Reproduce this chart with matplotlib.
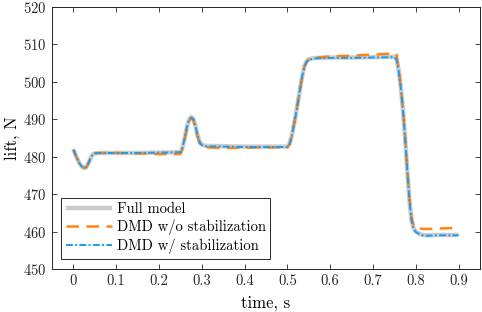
import matplotlib
matplotlib.use("Agg")
import matplotlib.pyplot as plt

plt.rcParams['font.family'] = 'serif'
plt.rcParams['font.serif'] = ['cmr10']
plt.rcParams['axes.formatter.use_mathtext'] = True
plt.rcParams['mathtext.fontset'] = 'cm'

t = [0, 0.005, 0.01, 0.015, 0.02, 0.025, 0.03, 0.035, 0.04, 0.045, 0.05, 0.06,
     0.1, 0.15, 0.2, 0.25, 0.255, 0.26, 0.265, 0.27, 0.275, 0.28, 0.285, 0.29,
     0.295, 0.3, 0.31, 0.35, 0.4, 0.45, 0.5, 0.505, 0.51, 0.515, 0.52, 0.525,
     0.53, 0.535, 0.54, 0.545, 0.55, 0.56, 0.57, 0.6, 0.65, 0.7, 0.75, 0.755,
     0.76, 0.765, 0.77, 0.775, 0.78, 0.785, 0.79, 0.795, 0.8, 0.81, 0.82, 0.83,
     0.85, 0.9]

full_model = [481.9, 480.5, 479.2, 478.1, 477.3, 477.0, 477.2, 478.2, 479.6, 480.6, 480.9, 481.0,
              481.0, 481.0, 481.1, 481.2, 482.5, 485.0, 487.8, 489.8, 490.6, 490.2, 488.3, 485.8,
              484.0, 483.2, 482.9, 482.8, 482.7, 482.7, 482.7, 483.5, 485.5, 488.5, 491.5, 495.0,
              498.5, 501.8, 504.3, 505.5, 506.0, 506.3, 506.4, 506.5, 506.5, 506.6, 506.7, 506.0,
              503.0, 498.5, 492.5, 485.0, 476.5, 468.5, 463.0, 460.8, 460.0, 459.3, 459.0, 459.0,
              459.1, 459.1]

dmd_wo = [481.9, 480.5, 479.2, 478.1, 477.3, 477.0, 477.2, 478.2, 479.6, 480.6, 480.9, 481.0,
          481.0, 480.9, 480.7, 480.7, 482.0, 484.6, 487.5, 489.5, 490.3, 489.9, 488.0, 485.4,
          483.6, 482.9, 482.5, 482.3, 482.4, 482.5, 482.5, 483.3, 485.3, 488.3, 491.3, 494.8,
          498.3, 501.6, 504.1, 505.4, 506.0, 506.3, 506.5, 506.8, 507.0, 507.3, 507.6, 507.5,
          503.5, 498.8, 492.7, 485.2, 476.8, 469.0, 463.8, 461.6, 461.0, 460.8, 460.7, 460.7,
          460.8, 461.0]

dmd_w = [481.9, 480.5, 479.2, 478.1, 477.3, 477.0, 477.2, 478.2, 479.6, 480.6, 480.9, 481.0,
         481.0, 481.0, 481.1, 481.2, 482.5, 485.0, 487.8, 489.8, 490.5, 490.1, 488.2, 485.7,
         483.9, 483.1, 482.8, 482.7, 482.6, 482.6, 482.6, 483.4, 485.4, 488.4, 491.4, 494.9,
         498.4, 501.7, 504.2, 505.4, 505.9, 506.2, 506.3, 506.4, 506.4, 506.5, 506.6, 505.9,
         502.9, 498.4, 492.4, 484.9, 476.4, 468.4, 462.9, 460.7, 459.9, 459.2, 458.9, 458.9,
         459.0, 459.0]

xticks = [0, 0.1, 0.2, 0.3, 0.4, 0.5, 0.6, 0.7, 0.8, 0.9]
xticklabels = ['0', '0.1', '0.2', '0.3', '0.4', '0.5', '0.6', '0.7', '0.8', '0.9']
yticks = [450, 460, 470, 480, 490, 500, 510, 520]

fig = plt.figure(figsize=(4.82, 3.12), dpi=100)
ax = fig.add_axes([52/482, 1-269/312, (480-52)/482, (269-7)/312])

ax.plot(t, full_model, color='#cccccc', lw=3.2, label='Full model', solid_capstyle='butt')
ax.plot(t, dmd_wo, color='#ff8412', lw=1.8, dashes=(5, 3), label='DMD w/o stabilization')
ax.plot(t, dmd_w, color='#1a9cf0', lw=1.4, dashes=(3.5, 1.2, 1, 1.2), label='DMD w/ stabilization')

ax.set_xlim(-0.05, 0.95)
ax.set_ylim(450, 520)
ax.set_xticks(xticks)
ax.set_xticklabels(xticklabels)
ax.set_yticks(yticks)
ax.tick_params(direction='in', top=True, right=True, length=3.5, width=0.6,
               labelsize=10.5, colors='#262626', pad=4)
for s in ax.spines.values():
    s.set_linewidth(0.7)
    s.set_color('#262626')
ax.set_xlabel('time, s', fontsize=12, labelpad=5)
ax.set_ylabel('lift, N', fontsize=12, labelpad=2)

leg = ax.legend(loc='lower left', bbox_to_anchor=(0.022, 0.04), fontsize=10.5,
                fancybox=False, edgecolor='#262626', framealpha=1,
                handlelength=3.2, handletextpad=0.3, borderpad=0.3, labelspacing=0.25,
                borderaxespad=0)
leg.get_frame().set_linewidth(0.7)

fig.savefig('out.png', dpi=100)
